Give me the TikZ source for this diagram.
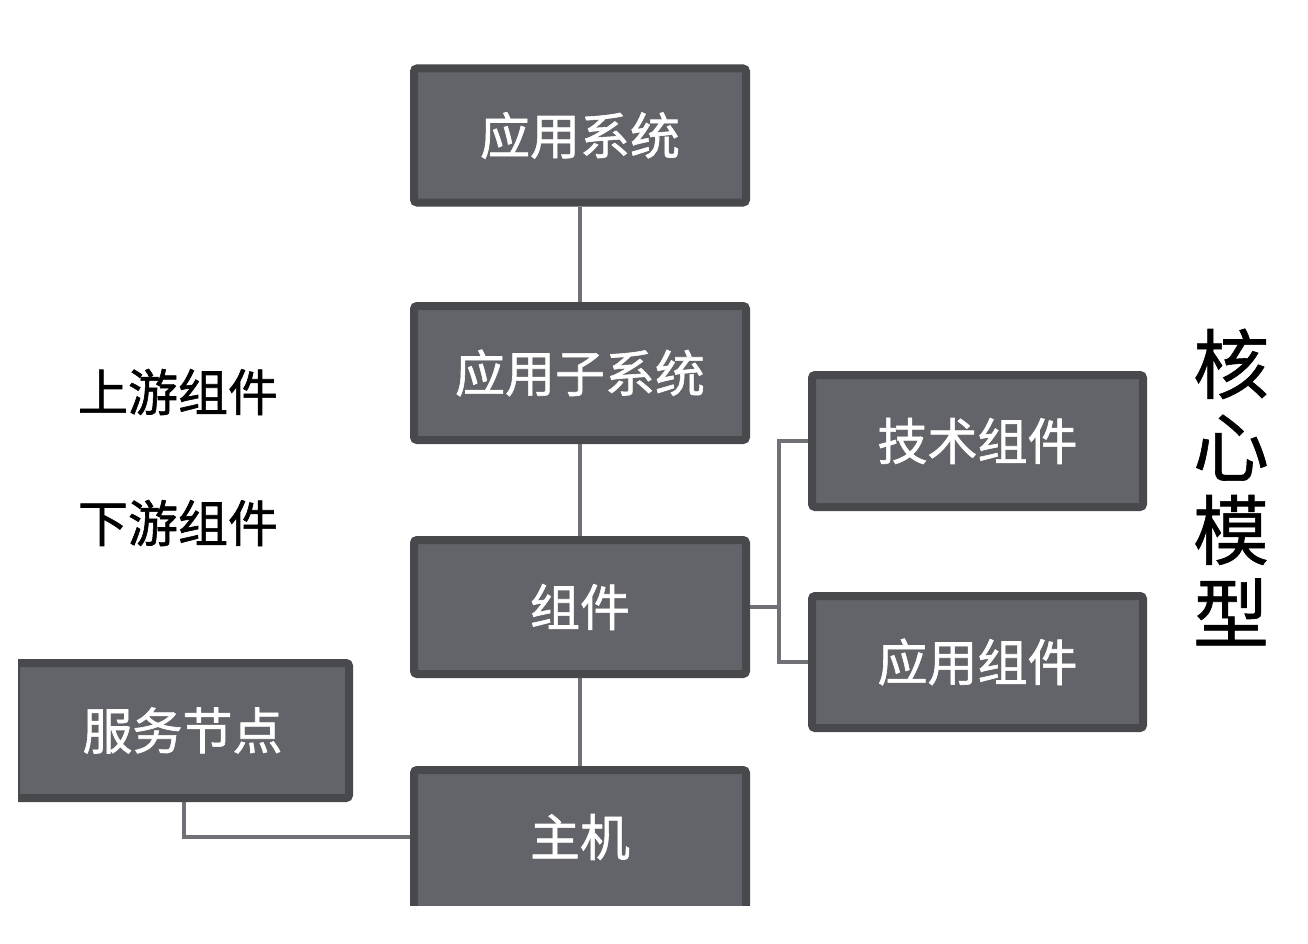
\documentclass[tikz,border=0pt]{standalone}
\usepackage{fontspec}
\newfontfamily\cjk[FakeBold=1.2]{Noto Sans CJK SC}
\newfontfamily\cjkv[FakeBold=0.8]{Noto Sans CJK SC}
\definecolor{boxfill}{HTML}{636469}
\definecolor{boxline}{HTML}{48494D}
\definecolor{conn}{HTML}{707176}
\begin{document}
\begin{tikzpicture}[x=1pt,y=-1pt,
  blk/.style={draw=boxline,fill=boxfill,line width=8pt,rounded corners=3pt,
    minimum width=332pt,minimum height=134pt,inner sep=0pt,
    text=white,font=\cjk\fontsize{50}{60}\selectfont},
  link/.style={draw=conn,line width=3.5pt},
  lbl/.style={inner sep=0pt,font=\cjk\fontsize{50}{60}\selectfont,text=black}]
\useasboundingbox (0,0) rectangle (1308,944);
\fill[white] (0,0) rectangle (1308,944);
\node[blk] (sys) at (580,135.5) {应用系统};
\node[blk] (sub) at (580,373) {应用子系统};
\node[blk] (comp) at (580,607) {组件};
\node[blk,minimum width=331pt,minimum height=132pt] (tech) at (977.5,441) {技术组件};
\node[blk,minimum width=331pt,minimum height=132pt] (appc) at (977.5,662) {应用组件};
\begin{scope}
  \clip (0,0) rectangle (1308,905);
  \node[blk,minimum height=142pt] (host) at (580,841) {};
  \node[text=white,font=\cjk\fontsize{50}{60}\selectfont,inner sep=0pt] (hostt) at (580,837) {主机};
\end{scope}
\begin{scope}
  \clip (18,0) rectangle (1308,944);
  \node[blk,minimum width=333pt,minimum height=135pt] (svc) at (182.5,730.5) {服务节点};
\end{scope}
\coordinate (bx) at (779,0);
\coordinate (hj) at (184,837);
\draw[link] (sys.south) -- (sub.north);
\draw[link] (sub.south) -- (comp.north);
\draw[link] (comp.south) -- (host.north);
\draw[link] (tech.west) -- (tech.west -| bx) -- (appc.west -| bx) -- (appc.west);
\draw[link] (comp.east) -- (comp.east -| bx);
\draw[link] (svc.south -| hj) -- (hj) -- (hj -| host.west);
\node[lbl] (up) at (178,392) {上游组件};
\node[lbl] (down) at (178,523) {下游组件};
\node[inner sep=0pt,align=center,font=\cjkv\fontsize{76}{83}\selectfont] (core) at (1231,487) {核\\心\\模\\型};
\end{tikzpicture}
\end{document}
